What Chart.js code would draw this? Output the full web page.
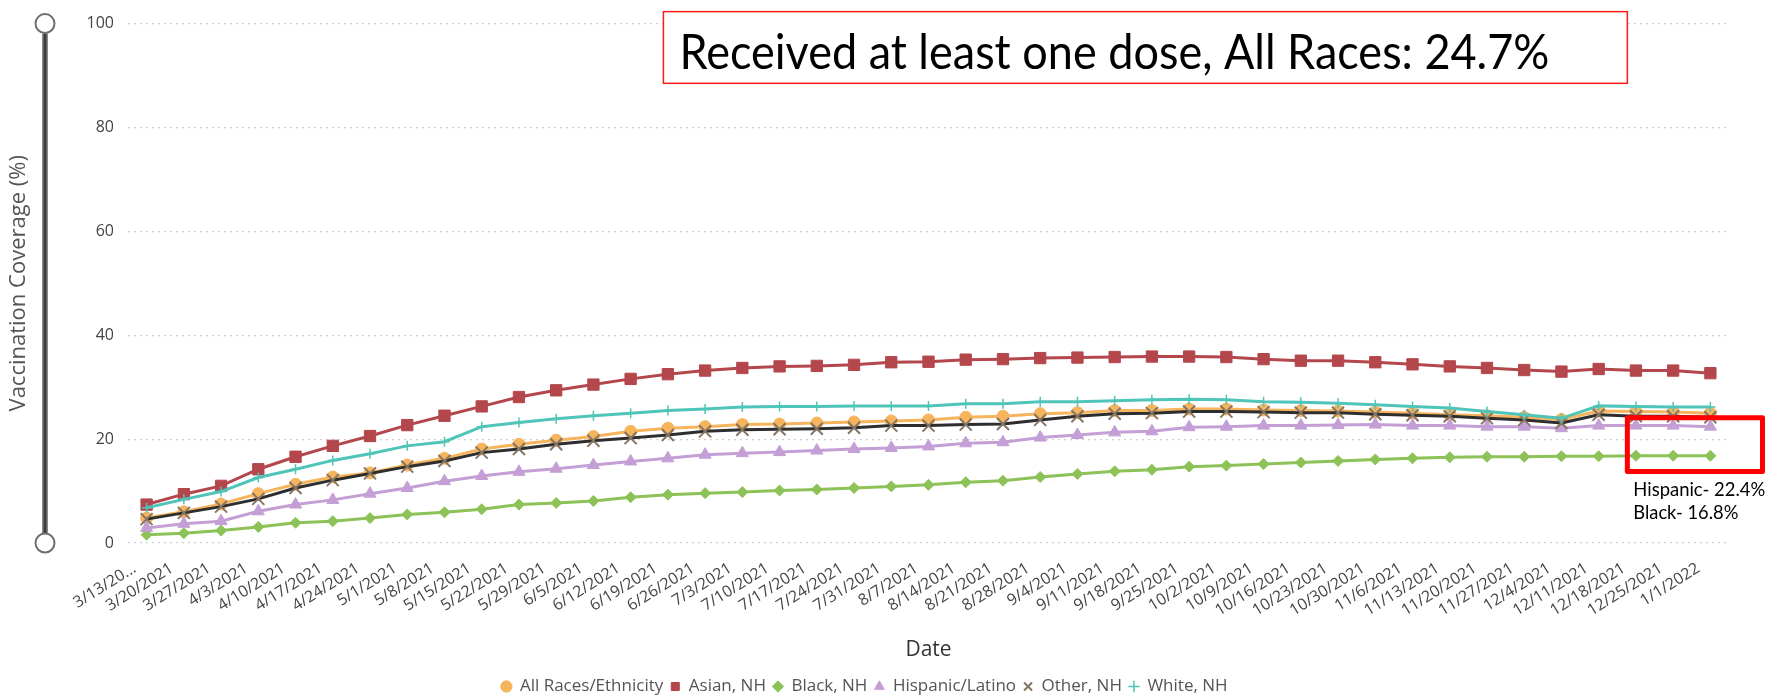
<!DOCTYPE html>
<html>
<head>
<meta charset="utf-8">
<script src="https://cdn.jsdelivr.net/npm/chart.js@4.4.1/dist/chart.umd.min.js"></script>
<style>
  html, body { margin: 0; padding: 0; background: #fff; }
  #wrap { position: relative; width: 1789px; height: 699px; }
</style>
</head>
<body>
<div id="wrap"><canvas id="coverageChart"></canvas></div>
<script>
const dates = ['3/13/2021', '3/20/2021', '3/27/2021', '4/3/2021', '4/10/2021', '4/17/2021', '4/24/2021',
  '5/1/2021', '5/8/2021', '5/15/2021', '5/22/2021', '5/29/2021', '6/5/2021', '6/12/2021', '6/19/2021',
  '6/26/2021', '7/3/2021', '7/10/2021', '7/17/2021', '7/24/2021', '7/31/2021', '8/7/2021', '8/14/2021',
  '8/21/2021', '8/28/2021', '9/4/2021', '9/11/2021', '9/18/2021', '9/25/2021', '10/2/2021', '10/9/2021',
  '10/16/2021', '10/23/2021', '10/30/2021', '11/6/2021', '11/13/2021', '11/20/2021', '11/27/2021',
  '12/4/2021', '12/11/2021', '12/18/2021', '12/25/2021', '1/1/2022'];

const allRaces = [4.8, 6.0, 7.5, 9.5, 11.3, 12.7, 13.5, 15.0, 16.3, 18.1, 19.0, 19.8, 20.5,
  21.5, 22.1, 22.4, 22.8, 22.9, 23.1, 23.3, 23.5, 23.7, 24.2, 24.4, 24.9, 25.1, 25.5, 25.5, 25.8,
  25.8, 25.6, 25.5, 25.4, 25.2, 25.0, 24.7, 24.5, 24.2, 23.8, 25.4, 25.3, 25.2, 25.0];
const asian = [7.4, 9.4, 11.0, 14.2, 16.6, 18.7, 20.6, 22.7, 24.5, 26.3, 28.1, 29.4, 30.5,
  31.6, 32.5, 33.2, 33.7, 34.0, 34.1, 34.3, 34.8, 34.9, 35.3, 35.4, 35.6, 35.7, 35.8, 35.9, 35.9,
  35.8, 35.4, 35.1, 35.1, 34.8, 34.4, 34.0, 33.7, 33.3, 33.0, 33.5, 33.2, 33.2, 32.7];
const black = [1.6, 1.9, 2.4, 3.1, 3.9, 4.2, 4.8, 5.5, 5.9, 6.5, 7.4, 7.7, 8.1,
  8.8, 9.3, 9.6, 9.8, 10.1, 10.3, 10.6, 10.9, 11.2, 11.7, 12.0, 12.7, 13.3, 13.8, 14.1, 14.7,
  14.9, 15.2, 15.5, 15.8, 16.1, 16.3, 16.5, 16.6, 16.6, 16.7, 16.7, 16.8, 16.8, 16.8];
const hispanic = [2.9, 3.7, 4.2, 6.1, 7.4, 8.3, 9.5, 10.6, 11.9, 12.9, 13.7, 14.3, 15.0,
  15.7, 16.3, 17.0, 17.3, 17.5, 17.8, 18.1, 18.3, 18.6, 19.2, 19.4, 20.3, 20.8, 21.3, 21.5, 22.3,
  22.4, 22.6, 22.6, 22.7, 22.8, 22.6, 22.6, 22.4, 22.4, 22.1, 22.6, 22.6, 22.6, 22.4];
const other = [4.6, 5.8, 7.0, 8.5, 10.6, 12.1, 13.4, 14.7, 15.8, 17.4, 18.1, 19.0, 19.7,
  20.2, 20.8, 21.5, 21.8, 21.9, 22.0, 22.2, 22.6, 22.6, 22.8, 22.9, 23.7, 24.4, 24.9, 25.0, 25.3,
  25.3, 25.2, 25.1, 25.1, 24.8, 24.6, 24.4, 24.0, 23.7, 23.1, 24.7, 24.4, 24.4, 24.2];
const white = [6.8, 8.4, 9.9, 12.6, 14.2, 15.9, 17.2, 18.7, 19.5, 22.4, 23.2, 23.9, 24.5,
  25.0, 25.5, 25.8, 26.2, 26.3, 26.3, 26.4, 26.4, 26.4, 26.8, 26.8, 27.2, 27.2, 27.4, 27.6, 27.7,
  27.6, 27.2, 27.1, 26.9, 26.6, 26.3, 26.0, 25.3, 24.7, 24.0, 26.4, 26.3, 26.2, 26.2];

const headline = 'Received at least one dose, All Races: 24.7%';
const notes = ['Hispanic- 22.4%', 'Black- 16.8%'];

const FONT = '"Segoe UI", "Open Sans", "Noto Sans", sans-serif';
const NOTE_FONT = 'Lato, "Liberation Sans", sans-serif';

function series(label, data, color, style, extra) {
  return Object.assign({
    label: label,
    data: data,
    borderColor: color,
    backgroundColor: color,
    borderWidth: 3,
    pointStyle: style,
    pointRadius: 6,
    pointHoverRadius: 6,
    pointBackgroundColor: color,
    pointBorderColor: color,
    pointBorderWidth: 1,
    tension: 0
  }, extra || {});
}

// fit a line of text into a width by squeezing it horizontally
function fitText(ctx, text, x, y, size, maxW) {
  ctx.font = size + 'px ' + NOTE_FONT;
  const w = ctx.measureText(text).width;
  const k = Math.min(1, maxW / w);
  ctx.save();
  ctx.translate(x, y);
  ctx.scale(k, 1);
  ctx.fillText(text, 0, 0);
  ctx.restore();
}

const overlay = {
  id: 'overlay',
  afterDraw(chart) {
    const { ctx, chartArea } = chart;
    const xs = chart.scales.x, ys = chart.scales.y;
    ctx.save();

    // range slider at the left
    const sx = ys.left + 45;
    ctx.lineCap = 'butt';
    ctx.strokeStyle = '#8a8a8a';
    ctx.lineWidth = 6;
    ctx.beginPath();
    ctx.moveTo(sx, chartArea.top + 10);
    ctx.lineTo(sx, chartArea.bottom - 10);
    ctx.stroke();
    ctx.strokeStyle = '#3c3c3c';
    ctx.lineWidth = 3;
    ctx.stroke();
    [chartArea.top, chartArea.bottom].forEach(cy => {
      ctx.beginPath();
      ctx.arc(sx, cy, 9.5, 0, Math.PI * 2);
      ctx.fillStyle = '#fff';
      ctx.fill();
      ctx.strokeStyle = '#6e6e6e';
      ctx.lineWidth = 2;
      ctx.stroke();
    });

    // headline box
    const hx1 = xs.getPixelForValue(13.88), hx2 = xs.getPixelForValue(39.77);
    const hy1 = ys.getPixelForValue(102.3), hy2 = ys.getPixelForValue(88.5);
    ctx.fillStyle = '#fff';
    ctx.fillRect(hx1, hy1, hx2 - hx1, hy2 - hy1);
    ctx.strokeStyle = '#ff1a1a';
    ctx.lineWidth = 1.5;
    ctx.strokeRect(hx1, hy1, hx2 - hx1, hy2 - hy1);
    ctx.fillStyle = '#000';
    ctx.textAlign = 'left';
    ctx.textBaseline = 'alphabetic';
    fitText(ctx, headline, hx1 + 16, ys.getPixelForValue(91.3), 48, 870);

    // highlight box on the last weeks
    const bx1 = xs.getPixelForValue(39.77), bx2 = xs.getPixelForValue(43.4);
    const by1 = ys.getPixelForValue(24.1), by2 = ys.getPixelForValue(13.75);
    ctx.strokeStyle = '#ff0000';
    ctx.lineWidth = 5;
    ctx.lineJoin = 'round';
    ctx.strokeRect(bx1, by1, bx2 - bx1, by2 - by1);

    ctx.fillStyle = '#000';
    const nx = xs.getPixelForValue(39.93);
    fitText(ctx, notes[0], nx, ys.getPixelForValue(9.04), 19, 132);
    fitText(ctx, notes[1], nx, ys.getPixelForValue(4.56), 19, 105);
    ctx.restore();
  }
};

new Chart(document.getElementById('coverageChart'), {
  type: 'line',
  data: {
    labels: dates,
    datasets: [
      series('All Races/Ethnicity', allRaces, '#F6B45C', 'circle', { order: 6 }),
      series('Asian, NH', asian, '#B4474C', 'rect', { order: 5, pointRadius: 8 }),
      series('Black, NH', black, '#8CC257', 'rectRot', { order: 4, pointRadius: 5.5 }),
      series('Hispanic/Latino', hispanic, '#C49FD6', 'triangle', { order: 3, pointRadius: 7 }),
      series('Other, NH', other, '#2E2E2E', 'crossRot', {
        order: 2, pointRadius: 8.5, pointBorderColor: '#857565', pointBorderWidth: 2
      }),
      series('White, NH', white, '#4FC4B8', 'cross', { order: 1, pointRadius: 5, pointBorderWidth: 1.5 })
    ]
  },
  options: {
    responsive: true,
    maintainAspectRatio: false,
    animation: false,
    layout: { padding: { top: 23, right: 60, bottom: -6, left: 0 } },
    plugins: {
      tooltip: { enabled: false },
      legend: {
        position: 'bottom',
        labels: {
          usePointStyle: true,
          boxWidth: 10,
          boxHeight: 8,
          padding: 7,
          color: '#555',
          font: { family: FONT, size: 17 },
          sort: (a, b) => a.datasetIndex - b.datasetIndex
        }
      }
    },
    scales: {
      x: {
        offset: true,
        afterFit(scale) { scale.height = 128; },
        grid: { display: false },
        border: { display: false },
        ticks: {
          autoSkip: false,
          minRotation: 32,
          maxRotation: 32,
          padding: 8,
          labelOffset: -12,
          color: '#444',
          font: { family: FONT, size: 16 },
          callback(value, index) {
            const s = this.getLabelForValue(value);
            return index === 0 ? s.slice(0, 7) + '...' : s;
          }
        },
        title: {
          display: true,
          text: 'Date',
          color: '#333',
          font: { family: FONT, size: 21 },
          padding: { top: 4, bottom: 8 }
        }
      },
      y: {
        min: 0,
        max: 100,
        afterFit(scale) { scale.width = 128; },
        grid: { color: '#cfcfcf', lineWidth: 1.2, drawTicks: false },
        border: { display: false, dash: [2, 4] },
        ticks: {
          stepSize: 20,
          padding: 14,
          color: '#444',
          font: { family: FONT, size: 16 }
        },
        title: {
          display: true,
          text: 'Vaccination Coverage (%)',
          color: '#555',
          font: { family: FONT, size: 22 },
          padding: { top: 6, bottom: 0 }
        }
      }
    }
  },
  plugins: [overlay]
});
</script>
</body>
</html>
